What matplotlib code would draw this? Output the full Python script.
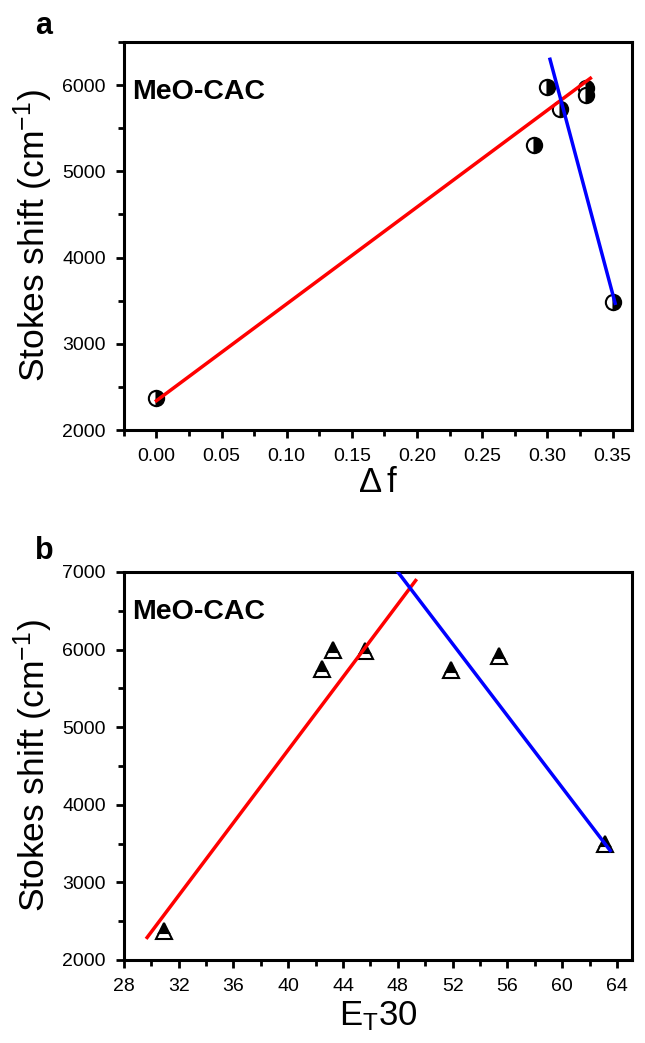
import matplotlib
matplotlib.use("Agg")
import matplotlib.pyplot as plt
from matplotlib.ticker import MultipleLocator

plt.rcParams['font.family'] = ['Liberation Sans', 'DejaVu Sans']
plt.rcParams['mathtext.fontset'] = 'custom'
plt.rcParams['mathtext.rm'] = 'Liberation Sans'
plt.rcParams['mathtext.it'] = 'Liberation Sans'
plt.rcParams['xtick.labelsize'] = 14
plt.rcParams['ytick.labelsize'] = 14
plt.rcParams['xtick.major.pad'] = 7
plt.rcParams['ytick.major.pad'] = 7

# panel a: Stokes shift vs delta f
df_x = [0.0, 0.29, 0.30, 0.31, 0.33, 0.33, 0.35]
df_y = [2370, 5300, 5980, 5720, 5970, 5890, 3480]
df_red_x = [0.0, 0.333]
df_red_y = [2340, 6080]
df_blue_x = [0.302, 0.352]
df_blue_y = [6300, 3470]

# panel b: Stokes shift vs ET30
et_x = [30.9, 42.5, 43.3, 45.6, 51.9, 55.4, 63.1]
et_y = [2370, 5750, 5990, 5980, 5735, 5920, 3490]
et_red_x = [29.7, 49.3]
et_red_y = [2290, 6890]
et_blue_x = [48.0, 63.5]
et_blue_y = [7000, 3410]

fig = plt.figure(figsize=(6.45, 10.43), dpi=100)
ax1 = fig.add_axes([0.192, 0.5877, 0.788, 0.372])
ax2 = fig.add_axes([0.192, 0.0796, 0.788, 0.372])


def style(ax, label_y):
    ax.yaxis.set_major_locator(MultipleLocator(1000))
    ax.yaxis.set_minor_locator(MultipleLocator(500))
    for s in ax.spines.values():
        s.set_linewidth(2.2)
    ax.tick_params(which='major', direction='out', length=6, width=2,
                   top=False, right=False)
    ax.tick_params(which='minor', direction='out', length=4, width=2,
                   top=False, right=False)
    ax.set_ylabel('Stokes shift (cm$^{\\mathregular{-1}}$)', fontsize=25.5,
                  labelpad=5)
    ax.text(0.017, label_y, 'MeO-CAC', transform=ax.transAxes,
            fontsize=20.5, fontweight='bold', va='center', ha='left')


# panel a
ax1.plot(df_red_x, df_red_y, color='#ff0000', lw=2.5, zorder=3)
ax1.plot(df_blue_x, df_blue_y, color='#0000ff', lw=2.5, zorder=3)
ax1.plot(df_x, df_y, ls='none', marker='o', ms=11, fillstyle='right',
         markerfacecolor='black', markerfacecoloralt='white',
         markeredgecolor='black', markeredgewidth=1.5, zorder=2)
ax1.set_xlim(-0.025, 0.365)
ax1.set_ylim(2000, 6500)
ax1.xaxis.set_major_locator(MultipleLocator(0.05))
ax1.xaxis.set_minor_locator(MultipleLocator(0.025))
ax1.xaxis.set_major_formatter(plt.FormatStrFormatter('%.2f'))
style(ax1, 0.871)
ax1.set_xlabel('$\\Delta\\,$f', fontsize=25, labelpad=1)
fig.text(0.055, 0.975, 'a', fontsize=22, fontweight='bold', va='center')

# panel b
ax2.plot(et_red_x, et_red_y, color='#ff0000', lw=2.5, zorder=3)
ax2.plot(et_blue_x, et_blue_y, color='#0000ff', lw=2.5, zorder=3)
ax2.plot(et_x, et_y, ls='none', marker='^', ms=11, fillstyle='top',
         markerfacecolor='black', markerfacecoloralt='white',
         markeredgecolor='black', markeredgewidth=1.5, zorder=2)
ax2.set_xlim(28, 65.1)
ax2.set_ylim(2000, 7000)
ax2.xaxis.set_major_locator(MultipleLocator(4))
ax2.xaxis.set_minor_locator(MultipleLocator(2))
style(ax2, 0.897)
ax2.set_xlabel('E$_\\mathregular{T}$30', fontsize=25, labelpad=3)
fig.text(0.055, 0.472, 'b', fontsize=22, fontweight='bold', va='center')

fig.savefig('out.png', dpi=100)
